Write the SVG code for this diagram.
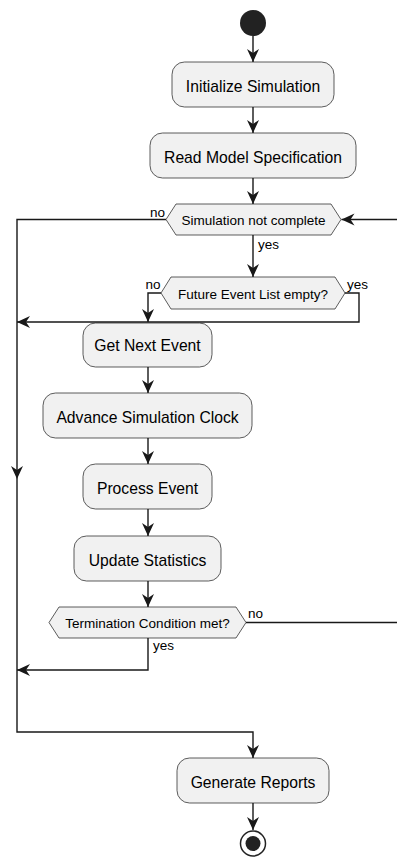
<svg xmlns="http://www.w3.org/2000/svg" width="397" height="857" viewBox="0 0 397 857">
  <defs>
    <marker id="arrow" markerUnits="userSpaceOnUse" markerWidth="20" markerHeight="20" refX="0" refY="0" orient="auto" overflow="visible">
      <path d="M0,0 L-13,-6 L-9,0 L-13,6 Z" fill="#181818"/>
    </marker>
  </defs>
  <style>
    .act { fill: #F1F1F1; stroke: #181818; stroke-width: 0.7; }
    .dec { fill: #F1F1F1; stroke: #181818; stroke-width: 0.7; }
    .lbl { font-family: "Liberation Sans", Arial, sans-serif; font-size: 15.7px; fill: #000; text-anchor: middle; }
    .dtxt { font-family: "Liberation Sans", Arial, sans-serif; font-size: 13.5px; fill: #000; text-anchor: middle; }
    .guard { font-family: "Liberation Sans", Arial, sans-serif; font-size: 13.5px; fill: #000; }
    .edge { fill: none; stroke: #181818; stroke-width: 1.4; }
    .arr { marker-end: url(#arrow); }
  </style>
  <rect width="397" height="857" fill="#FFFFFF"/>

  <g id="connectors">
    <line class="edge arr" x1="253" y1="36" x2="253" y2="62"/>
    <line class="edge arr" x1="253" y1="107" x2="253" y2="133"/>
    <line class="edge arr" x1="253" y1="178" x2="253" y2="204"/>
    <!-- loop back from termination check -->
    <path class="edge arr" d="M246,622.5 H399 V219.5 H341.5"/>
    <!-- while: yes -->
    <line class="edge arr" x1="253" y1="235" x2="253" y2="277"/>
    <!-- while: no, exit path -->
    <path class="edge arr" d="M166,219.5 H17 V479"/>
    <path class="edge arr" d="M17,479 V732 H253 V758"/>
    <!-- event list empty: no -->
    <path class="edge arr" d="M161,293 H148 V322"/>
    <!-- event list empty: yes -->
    <path class="edge arr" d="M345,293 H359 V322 H17"/>
    <line class="edge arr" x1="148" y1="367" x2="148" y2="393"/>
    <line class="edge arr" x1="148" y1="438" x2="148" y2="464"/>
    <line class="edge arr" x1="148" y1="509" x2="148" y2="536"/>
    <line class="edge arr" x1="148" y1="581" x2="148" y2="607"/>
    <!-- termination met: yes -->
    <path class="edge arr" d="M148,638 V670 H17"/>
    <line class="edge arr" x1="253" y1="803" x2="253" y2="830"/>
    <text class="guard" x="150" y="216.5">no</text>
    <text class="guard" x="258" y="249">yes</text>
    <text class="guard" x="145.5" y="289">no</text>
    <text class="guard" x="347" y="288.5">yes</text>
    <text class="guard" x="248" y="618">no</text>
    <text class="guard" x="153" y="650">yes</text>
  </g>

  <g id="start">
    <circle cx="253" cy="23" r="13" fill="#222222"/>
  </g>
  <g id="init">
    <rect class="act" x="172" y="62" width="162" height="45" rx="12.5"/>
    <text class="lbl" x="253" y="91.5">Initialize Simulation</text>
  </g>
  <g id="read-model">
    <rect class="act" x="150" y="133" width="206" height="45" rx="12.5"/>
    <text class="lbl" x="253" y="162.5">Read Model Specification</text>
  </g>
  <g id="sim-not-complete">
    <polygon class="dec" points="166,219.5 176,204 331,204 341,219.5 331,235 176,235"/>
    <text class="dtxt" x="253.5" y="225">Simulation not complete</text>
  </g>
  <g id="fel-empty">
    <polygon class="dec" points="161,293 171,277 335,277 345,293 335,309 171,309"/>
    <text class="dtxt" x="253" y="299">Future Event List empty?</text>
  </g>
  <g id="get-next">
    <rect class="act" x="83" y="323" width="129" height="44" rx="12.5"/>
    <text class="lbl" x="147.5" y="351">Get Next Event</text>
  </g>
  <g id="advance-clock">
    <rect class="act" x="43" y="393" width="209" height="45" rx="12.5"/>
    <text class="lbl" x="147.5" y="422.5">Advance Simulation Clock</text>
  </g>
  <g id="process-event">
    <rect class="act" x="83" y="464" width="129" height="45" rx="12.5"/>
    <text class="lbl" x="147.5" y="493.5">Process Event</text>
  </g>
  <g id="update-stats">
    <rect class="act" x="74" y="536" width="147" height="45" rx="12.5"/>
    <text class="lbl" x="147.5" y="565.5">Update Statistics</text>
  </g>
  <g id="termination">
    <polygon class="dec" points="49,622.5 59,607 236,607 246,622.5 236,638 59,638"/>
    <text class="dtxt" x="147.5" y="628">Termination Condition met?</text>
  </g>
  <g id="reports">
    <rect class="act" x="177" y="758" width="152" height="45" rx="12.5"/>
    <text class="lbl" x="253" y="787.5">Generate Reports</text>
  </g>
  <g id="end">
    <circle cx="253" cy="843.5" r="12.5" fill="#FFFFFF" stroke="#222222" stroke-width="1.5"/>
    <circle cx="253" cy="843.5" r="7.5" fill="#222222"/>
  </g>
</svg>
